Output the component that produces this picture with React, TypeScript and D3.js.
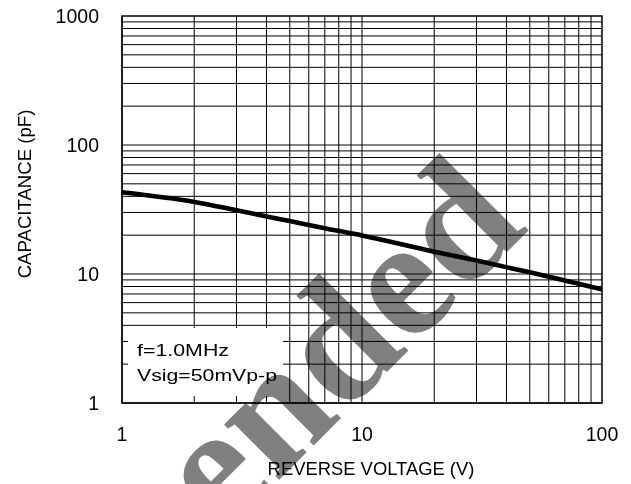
import React from 'react';
import * as d3 from 'd3';

const voltage = [1, 2, 3, 5, 7, 10, 20, 30, 50, 70, 100];
const capacitance = [43, 36.2, 31.2, 25.7, 22.6, 19.9, 14.9, 12.7, 10.3, 8.9, 7.6];
const xTicks = [1, 10, 100];
const yTicks = [1, 10, 100, 1000];
const noteLines = ['f=1.0MHz', 'Vsig=50mVp-p'];
const xTitle = 'REVERSE VOLTAGE (V)';
const yTitle = 'CAPACITANCE (pF)';
const watermark = 'Not Recommended';

const FONT = "'Liberation Sans', Arial, sans-serif";

export default function App() {
  const W = 631, H = 484;
  const L = 122, R = 602, T = 16, B = 403;
  const x = d3.scaleLog().domain([1, 100]).range([L, R]);
  const y = d3.scaleLog().domain([1, 1000]).range([B, T]);

  const gridX: number[] = [];
  [1, 10].forEach(d => { for (let k = 1; k <= 9; k++) gridX.push(k * d); });
  const gridY: number[] = [];
  [1, 10, 100].forEach(d => { for (let k = 1; k <= 9; k++) gridY.push(k * d); });

  const line = d3.line<number>()
    .x((_, i) => x(voltage[i]))
    .y((d) => y(d))
    .curve(d3.curveMonotoneX);

  const box = { x0: 128, x1: 283, y0: 328, y1: 396 };
  const wmX = 530, wmY = 229;

  return (
    <svg width={W} height={H} style={{ position: 'absolute', left: 0, top: 0, background: '#fff' }}>
      <rect x={0} y={0} width={W} height={H} fill="#fff" />
      <g stroke="#000" strokeWidth={1} shapeRendering="auto">
        {gridX.map(v => (
          <line key={'gx' + v} x1={x(v)} x2={x(v)} y1={T} y2={B} />
        ))}
        {gridY.map(v => (
          <line key={'gy' + v} x1={L} x2={R} y1={y(v)} y2={y(v)} />
        ))}
      </g>
      <rect x={box.x0} y={box.y0} width={box.x1 - box.x0} height={box.y1 - box.y0} fill="#fff" />
      <rect x={L} y={T} width={R - L} height={B - T} fill="none" stroke="#000" strokeWidth={1.5} />
      <path d={line(capacitance) || ''} fill="none" stroke="#000" strokeWidth={4.6} strokeLinejoin="round" />
      <g fontFamily={FONT} fill="#000">
        {noteLines.map((t, i) => (
          <text key={t} x={137} y={356 + i * 25} fontSize={17} textLength={i === 0 ? 92 : 140} lengthAdjust="spacingAndGlyphs">{t}</text>
        ))}
        {yTicks.map(v => (
          <text key={'yt' + v} x={99} y={y(v) + 7} fontSize={19.5} textAnchor="end">{v}</text>
        ))}
        {xTicks.map(v => (
          <text key={'xt' + v} x={x(v)} y={441} fontSize={19.5} textAnchor="middle">{v}</text>
        ))}
        <text x={371} y={475} fontSize={18.4} textAnchor="middle">{xTitle}</text>
        <text transform={`translate(31,194) rotate(-90)`} fontSize={18.6} textAnchor="middle">{yTitle}</text>
      </g>
      <text
        transform={`translate(${wmX},${wmY}) rotate(-45)`}
        fontFamily="'Liberation Serif', 'Times New Roman', serif"
        fontWeight="bold"
        fontSize={170}
        textAnchor="end"
        fill="#808080"
        style={{ mixBlendMode: 'multiply' }}
      >{watermark}</text>
    </svg>
  );
}
